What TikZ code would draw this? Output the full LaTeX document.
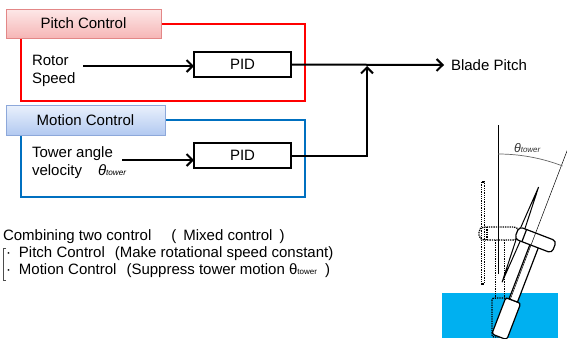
\documentclass[tikz,border=0pt]{standalone}
\usepackage{fontspec}
\setmainfont{Liberation Sans}
\usetikzlibrary{arrows.meta}
\definecolor{pinkTop}{HTML}{FDE8E8}
\definecolor{pinkBot}{HTML}{F6B6B6}
\definecolor{pinkEdge}{HTML}{E38787}
\definecolor{blueTop}{HTML}{EAF1FC}
\definecolor{blueBot}{HTML}{B2C9F1}
\definecolor{blueEdge}{HTML}{8DA8DA}
\definecolor{frameBlue}{HTML}{0070C0}
\definecolor{sea}{HTML}{00B0F0}
\begin{document}
\begin{tikzpicture}[x=1pt, y=-1pt,
  every node/.style={inner sep=0pt, outer sep=0pt},
  txt/.style={font=\fontsize{15}{18}\selectfont},
  lbl/.style={txt, align=left, anchor=north west},
  header/.style={txt, draw, line width=0.8pt, minimum height=29pt, anchor=north west},
  frame/.style={draw, line width=1.5pt, minimum width=284pt, minimum height=77pt, anchor=north west},
  pidbox/.style={txt, draw, line width=2.5pt, fill=white, minimum width=97pt, minimum height=25pt, anchor=north west},
  arr/.style={line width=2pt, -{Straight Barb[length=6pt, width=12pt]}},
  note/.style={font=\fontsize{15}{17}\selectfont, anchor=base west},
  ghost/.style={densely dotted, line width=1.3pt},
  bodypart/.style={fill=white, line width=1.2pt}
]
\useasboundingbox (0,0) rectangle (567,338);
\fill[white] (0,0) rectangle (567,338);

% ---------- pitch control loop ----------
\node (pframe) [frame, draw=red] at (21,24) {};
\node (phead) [header, draw=pinkEdge, top color=pinkTop, bottom color=pinkBot, minimum width=155pt] at (6,9) {Pitch Control};
\node (rs) [lbl] at (32,55) {Rotor\\Speed};
\node (pid1) [pidbox] at (194,52) {PID};
\coordinate (rin) at (83,66);
\draw[arr] (rin) -- (rin -| pid1.west);

% ---------- motion control loop ----------
\node (mframe) [frame, draw=frameBlue] at (21,120) {};
\node (mhead) [header, draw=blueEdge, top color=blueTop, bottom color=blueBot, minimum width=159pt, minimum height=30pt] at (6,105) {Motion Control};
\node (tav) [lbl] at (32,147) {Tower angle\\velocity\hspace{16pt}{\itshape θ}{\fontsize{8.2}{9}\selectfont\itshape tower}};
\node (pid2) [pidbox] at (194,143) {PID};
\coordinate (tin) at (122,160);
\draw[arr] (tin) -- (tin -| pid2.west);

% ---------- combined output ----------
\node (bp) [txt, anchor=west] at (451,65) {Blade Pitch};
\coordinate (jn) at (367,65);
\draw[arr] (pid1.east) -- ([xshift=-7pt]bp.west);
\draw[arr] (pid2.east) -| ([yshift=-1pt]jn);

% ---------- notes ----------
\node (n1) [note] at (3,240.5) {Combining two control\hspace{20pt}(\hspace{7pt}Mixed control\hspace{7pt})};
\node (n2) [note] at (6,257.5) {·\hspace{8pt}Pitch Control\hspace{10pt}(Make rotational speed constant)};
\node (n3) [note] at (6,274.5) {·\hspace{8pt}Motion Control\hspace{10pt}(Suppress tower motion θ{\fontsize{8}{9}\selectfont tower}\hspace{8pt})};
\draw[line width=0.5pt, black!70] (6,248) -- (3,248) -- (3,280) -- (6,280);

% ---------- floating turbine ----------
\fill[sea] (442,293) rectangle (558,338);

% upright position, dotted
\begin{scope}[shift={(500,335)}]
  \draw[ghost] (-18.5,-153) rectangle (-15.5,-51);
  \draw[ghost] (-4.5,-95) -- (-4.5,-37);
  \draw[ghost] (4.5,-95) -- (4.5,-37);
  \draw[ghost, rounded corners=2pt] (-8,-37) rectangle (8,2);
  \draw[ghost, rounded corners=5pt] (-21,-108) rectangle (19,-95);
  \draw[ghost] (-13,-108) -- (-13,-95);
\end{scope}

% vertical reference
\draw[line width=0.8pt] (498,125) -- (498,274);

% tilted position
\begin{scope}[shift={(500,335)}, rotate=-21]
  \draw[bodypart, rounded corners=2.5pt] (-8,-37) rectangle (8,2);
  \draw[bodypart] (-4.5,-96) rectangle (4.5,-37);
  \draw[bodypart, line width=1pt] (-17,-152) -- (-14.5,-101) -- (-17,-50) -- (-19.5,-101) -- cycle;
  \draw[bodypart, rounded corners=4pt] (-21,-108) rectangle (19,-95);
  \draw[line width=1.2pt] (-13,-108) -- (-13,-95);
\end{scope}

% tilted axis and angle
\draw[line width=0.5pt] (510,300) -- (575,130);
\draw[black!60, line width=0.7pt] (498,154) arc[start angle=90, end angle=69, radius=180pt];
\node (th) [anchor=base west, text=black!80] at (514,152) {\fontsize{12.5}{14}\selectfont\itshape θ{\fontsize{8}{9}\selectfont tower}};
\end{tikzpicture}
\end{document}
